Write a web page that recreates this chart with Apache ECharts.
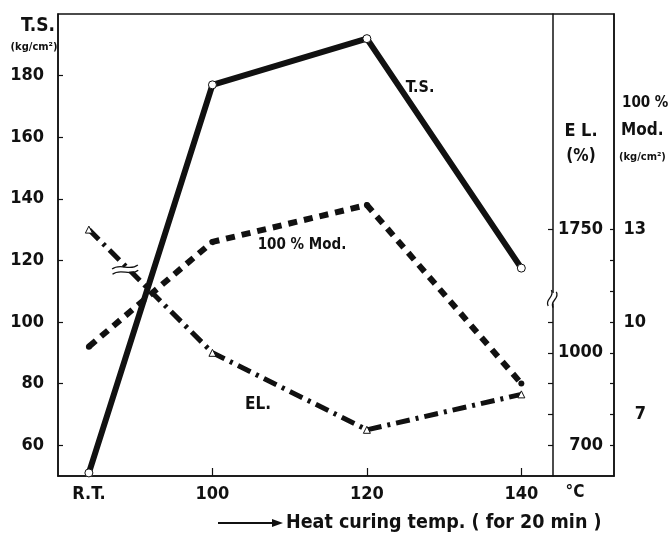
<!DOCTYPE html>
<html>
<head>
<meta charset="utf-8">
<script src="https://cdn.jsdelivr.net/npm/echarts@6/dist/echarts.min.js"></script>
<style>
html, body { margin: 0; padding: 0; background: #fff; }
#chart { width: 672px; height: 539px; }
</style>
</head>
<body>
<div id="chart"></div>
<script>
// Curing temperature (R.T. sits just left of 100 °C on the scale)
const tempLabels = ['R.T.', '100', '120', '140'];
const tempValues = [84, 100, 120, 140];
const tempTicks = [100, 120, 140];

// Tensile strength, kg/cm²
const tensileStrength = [51, 177, 192, 117.5];
// 100 % modulus, kg/cm²
const modulus100 = [9.2, 12.6, 13.8, 8.0];
// Elongation, %
const elongation = [1750, 1000, 750, 865];

const tsTicks = [60, 80, 100, 120, 140, 160, 180];
const elTicks = [700, 800, 900, 1000, 1100, 1750];
const elLabels = [700, 1000, 1750];
const modTicks = [6, 7, 8, 9, 10, 11, 12, 13];
const modLabels = [7, 10, 13];

const FONT = '"DejaVu Sans Condensed", "Liberation Sans Narrow", sans-serif';
const INK = '#111';

const chart = echarts.init(document.getElementById('chart'), null, { renderer: 'canvas' });

const labelStyle = { color: INK, fontFamily: FONT, fontSize: 18, fontWeight: 'bold' };
const plain = v => String(v);

const option = {
  animation: false,
  backgroundColor: '#fff',
  grid: {
    left: 58, right: 58, top: 14, bottom: 63,
    show: true, borderColor: INK, borderWidth: 1.5, backgroundColor: 'transparent'
  },
  xAxis: {
    type: 'value', min: 80, max: 152,
    axisLine: { show: true, lineStyle: { color: INK, width: 1.5 } },
    axisTick: { show: true, inside: true, length: 8, customValues: tempTicks, lineStyle: { color: INK, width: 1.2 } },
    axisLabel: Object.assign({
      customValues: tempValues, margin: 9,
      formatter: v => tempLabels[tempValues.indexOf(v)] || ''
    }, labelStyle),
    splitLine: { show: false }
  },
  yAxis: [
    {
      type: 'value', position: 'left', min: 50, max: 200,
      axisLine: { show: true, lineStyle: { color: INK, width: 1.5 } },
      axisTick: { show: true, inside: true, length: 5, customValues: tsTicks, lineStyle: { color: INK, width: 1.2 } },
      axisLabel: Object.assign({ customValues: tsTicks, margin: 14, formatter: plain }, labelStyle),
      splitLine: { show: false }
    },
    {
      type: 'value', position: 'right', offset: -61, min: 600, max: 2450,
      breaks: [{ start: 1160, end: 1540, gap: 30 }],
      breakArea: { show: false },
      axisLine: { show: true, onZero: false, lineStyle: { color: INK, width: 1.5 } },
      axisTick: { show: true, inside: true, length: 5, customValues: elTicks, lineStyle: { color: INK, width: 1.2 } },
      axisLabel: Object.assign({ customValues: elLabels, margin: 50, align: 'right', formatter: plain }, labelStyle),
      splitLine: { show: false }
    },
    {
      type: 'value', position: 'right', offset: 0, min: 5, max: 20,
      axisLine: { show: true, onZero: false, lineStyle: { color: INK, width: 1.5 } },
      axisTick: { show: true, inside: true, length: 4, customValues: modTicks, lineStyle: { color: INK, width: 1.2 } },
      axisLabel: Object.assign({ customValues: modLabels, margin: 32, align: 'right', formatter: plain }, labelStyle),
      splitLine: { show: false }
    }
  ],
  series: [
    {
      name: 'E.L.', type: 'line', yAxisIndex: 1, z: 2,
      data: tempValues.map((t, i) => [t, elongation[i]]),
      lineStyle: { color: INK, width: 5, type: [14, 6, 3, 6], cap: 'butt' },
      symbol: 'triangle', symbolSize: 7, showSymbol: true,
      itemStyle: { color: '#fff', borderColor: INK, borderWidth: 1 }
    },
    {
      name: '100% Mod.', type: 'line', yAxisIndex: 2, z: 3,
      data: tempValues.map((t, i) => [t, modulus100[i]]),
      lineStyle: { color: INK, width: 6, type: [9, 7], cap: 'butt' },
      symbol: 'circle', symbolSize: 6, showSymbol: true,
      itemStyle: { color: INK, borderColor: INK, borderWidth: 0 }
    },
    {
      name: 'T.S.', type: 'line', yAxisIndex: 0, z: 4,
      data: tempValues.map((t, i) => [t, tensileStrength[i]]),
      lineStyle: { color: INK, width: 6 },
      symbol: 'circle', symbolSize: 8, showSymbol: true,
      itemStyle: { color: '#fff', borderColor: INK, borderWidth: 1 }
    }
  ]
};

chart.setOption(option);

// Titles, series captions and break marks
function txt(text, x, y, size, align) {
  return {
    type: 'text', x: x, y: y, z: 50,
    style: {
      text: text, fill: INK, font: 'bold ' + size + 'px ' + FONT,
      align: align || 'center', verticalAlign: 'middle'
    }
  };
}

function wave(w, dy) {
  return {
    type: 'bezierCurve', z: 61,
    shape: { x1: -w, y1: dy + 1, cpx1: -w / 3, cpy1: dy - 5, cpx2: w / 3, cpy2: dy + 5, x2: w, y2: dy - 1 },
    style: { stroke: INK, lineWidth: 1.3, fill: null }
  };
}

function breakMark(x, y, rot, w) {
  return {
    type: 'group', x: x, y: y, rotation: rot, z: 60,
    children: [
      { type: 'rect', z: 60, shape: { x: -w + 2, y: -2.2, width: 2 * w - 4, height: 4.4 }, style: { fill: '#fff' } },
      wave(w, -2.6),
      wave(w, 2.6)
    ]
  };
}

const linePt = chart.convertToPixel({ gridIndex: 0 }, [88.7, 117]);
const axisX = chart.convertToPixel({ xAxisIndex: 0 }, 144);
const axisY = chart.convertToPixel({ yAxisIndex: 1 }, 1350);

chart.setOption({
  graphic: [
    txt('T.S.', 38, 26, 19),
    txt('(kg/cm²)', 34, 47, 11),
    txt('E L.', 581, 131, 18),
    txt('(%)', 581, 157, 17),
    txt('100 %', 622, 103, 15, 'left'),
    txt('Mod.', 621, 131, 17, 'left'),
    txt('(kg/cm²)', 619, 157, 11, 'left'),
    txt('°C', 575, 493, 17),
    txt('T.S.', 420, 88, 16),
    txt('100 % Mod.', 302, 245, 15),
    txt('EL.', 258, 405, 17),
    txt('Heat curing temp. ( for 20 min )', 286, 523, 19.5, 'left'),
    { type: 'line', z: 50, shape: { x1: 218, y1: 523, x2: 274, y2: 523 }, style: { stroke: INK, lineWidth: 2 } },
    { type: 'polygon', z: 50, shape: { points: [[283, 523], [272, 519], [272, 527]] }, style: { fill: INK } },
    breakMark(linePt[0], linePt[1], 0.08, 13),
    breakMark(axisX, axisY, 1.25, 8)
  ]
});
</script>
</body>
</html>
